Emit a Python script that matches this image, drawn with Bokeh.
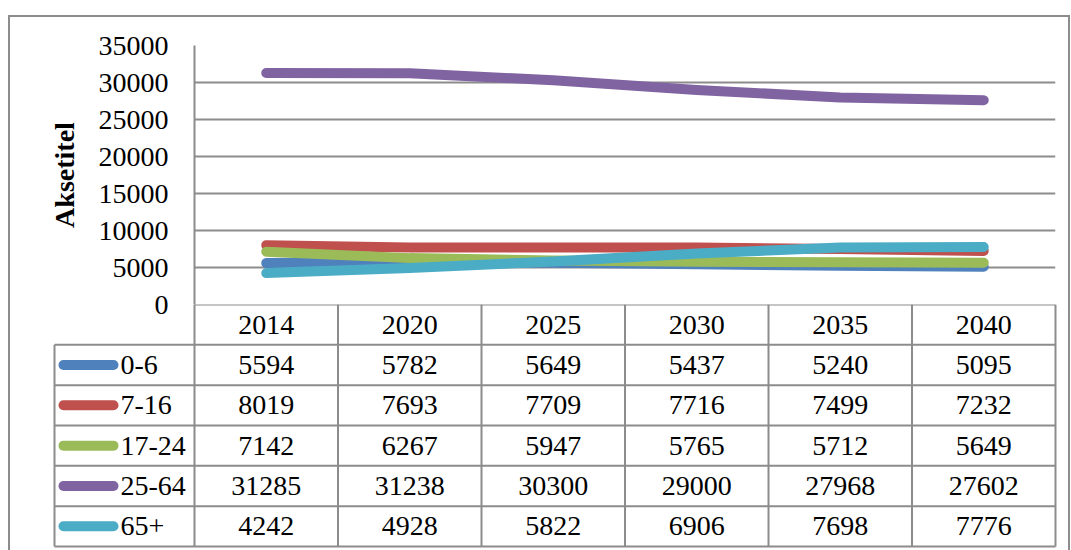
import numpy as np
from bokeh.plotting import figure
from bokeh.models import Range1d, FixedTicker
from bokeh.layouts import column
from bokeh.embed import file_html
from bokeh.resources import INLINE
from bokeh.core.properties import value

# ---------------- data ----------------
years = ["2014", "2020", "2025", "2030", "2035", "2040"]
groups = ["0-6", "7-16", "17-24", "25-64", "65+"]
v_0_6 = [5594, 5782, 5649, 5437, 5240, 5095]
v_7_16 = [8019, 7693, 7709, 7716, 7499, 7232]
v_17_24 = [7142, 6267, 5947, 5765, 5712, 5649]
v_25_64 = [31285, 31238, 30300, 29000, 27968, 27602]
v_65 = [4242, 4928, 5822, 6906, 7698, 7776]
y_ticks = [0, 5000, 10000, 15000, 20000, 25000, 30000, 35000]
axis_title = "Aksetitel"

series = [v_0_6, v_7_16, v_17_24, v_25_64, v_65]
colors = ["#4F81BD", "#C0504D", "#9BBB59", "#8064A2", "#4BACC6"]

# ---------------- style ----------------
FONT = "Liberation Serif"
FS = "28px"
GRID = "#8c8c8c"
W = 1058
OVL = 14                      # overlap so the "0" tick label is not cut
TOP_H = 287 + OVL
BOT_H = 246
ML, MR, MT = 184, 13, 28
COLW = (W - ML - MR) / 6.0
ROWH = 40.33

# ---------------- chart ----------------
top = figure(width=W, height=TOP_H, x_range=Range1d(0, 6), y_range=Range1d(0, 35000),
             output_backend="svg", toolbar_location=None, x_axis_location=None,
             min_border_left=ML, min_border_right=MR, min_border_top=MT, min_border_bottom=OVL,
             frame_align=False)
top.outline_line_color = None
top.xgrid.visible = False
top.ygrid.ticker = FixedTicker(ticks=y_ticks)
top.ygrid.grid_line_color = GRID
top.ygrid.grid_line_width = 2
ax = top.yaxis[0]
ax.ticker = FixedTicker(ticks=y_ticks)
ax.major_tick_in = 0
ax.major_tick_out = 0
ax.minor_tick_in = 0
ax.minor_tick_out = 0
ax.axis_line_color = GRID
ax.axis_line_width = 2
ax.major_label_standoff = 26
ax.major_label_text_font = FONT
ax.major_label_text_font_size = FS
ax.major_label_text_color = "black"
ax.axis_label = axis_title
ax.axis_label_text_font = FONT
ax.axis_label_text_font_size = FS
ax.axis_label_text_font_style = "bold"
ax.axis_label_text_color = "black"
ax.axis_label_standoff = 16

xc = np.arange(len(years)) + 0.5
for vals, c in zip(series, colors):
    top.line(x=xc, y=vals, line_width=10, line_color=c, line_cap="round", line_join="round")

# ---------------- data table ----------------
xl = -ML / COLW
xr = 6 + MR / COLW
bot = figure(width=W, height=BOT_H, x_range=Range1d(xl, xr), y_range=Range1d(BOT_H / ROWH, 0),
             output_backend="svg", toolbar_location=None,
             x_axis_location=None, y_axis_location=None, min_border=0, frame_align=False,
             margin=(-OVL, 0, 0, 0))
bot.outline_line_color = None
bot.grid.visible = False
bot.background_fill_color = None
bot.border_fill_color = None

leg_left = (54 - 194) / COLW
nrows = len(groups)
hy = list(range(0, nrows + 2))
hx0 = [0, leg_left] + [leg_left] * nrows
hx1 = [6] * (nrows + 2)
bot.segment(x0=hx0, y0=hy, x1=hx1, y1=hy, line_color=GRID, line_width=2)
vx = list(range(0, 7))
bot.segment(x0=vx, y0=[0] * 7, x1=vx, y1=[nrows + 1] * 7, line_color=GRID, line_width=2)
bot.segment(x0=[leg_left], y0=[1], x1=[leg_left], y1=[nrows + 1], line_color=GRID, line_width=2)

txt = dict(text_font=value(FONT), text_font_size=value(FS), text_color="black",
           text_baseline="middle")
bot.text(x=xc, y=[0.5] * 6, text=years, text_align="center", **txt)
for r, (g, vals, c) in enumerate(zip(groups, series, colors)):
    yy = r + 1.5
    bot.text(x=xc, y=[yy] * 6, text=[str(v) for v in vals], text_align="center", **txt)
    bot.segment(x0=[(63 - 194) / COLW], y0=[yy], x1=[(113 - 194) / COLW], y1=[yy],
                line_color=c, line_width=10, line_cap="round")
    bot.text(x=[(120 - 194) / COLW], y=[yy], text=[g], text_align="left", **txt)

layout = column(top, bot, styles={"border-top": "2px solid #8c8c8c",
                                  "border-left": "2px solid #8c8c8c",
                                  "border-right": "2px solid #8c8c8c",
                                  "margin-top": "15px",
                                  "margin-left": "8px",
                                  "margin-bottom": "-40px"})

open("out.html", "w").write(file_html(layout, INLINE))
